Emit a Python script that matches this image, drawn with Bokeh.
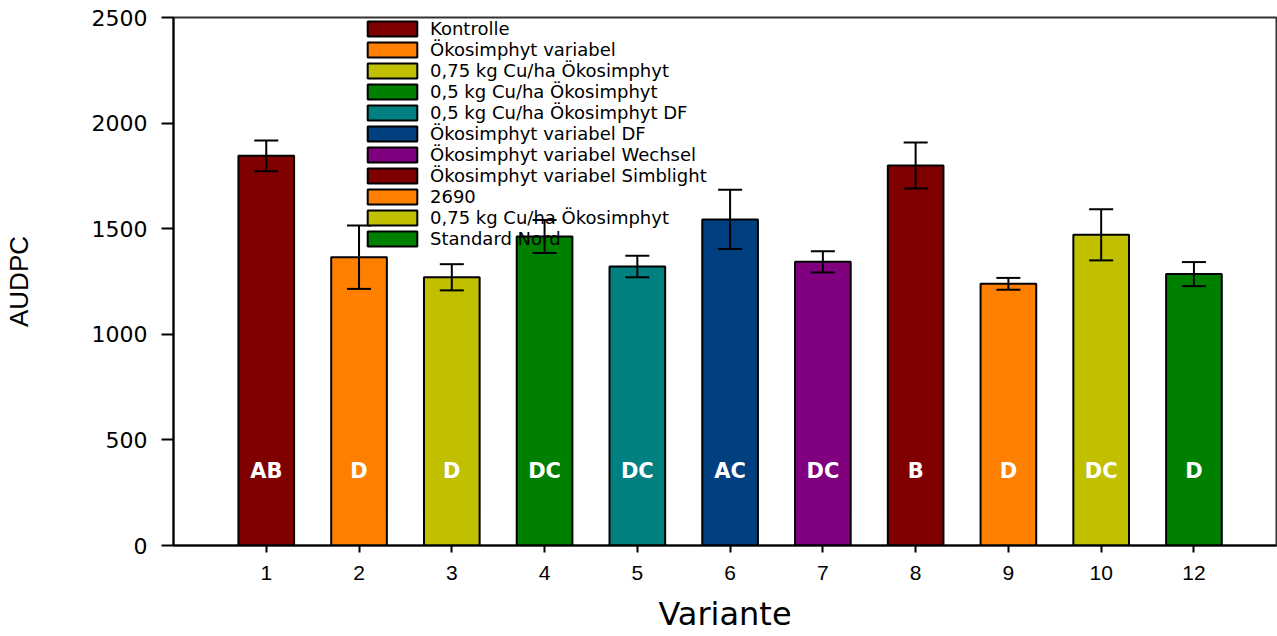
from bokeh.plotting import figure
from bokeh.models import (ColumnDataSource, Range1d, FixedTicker, Whisker, TeeHead,
                          Legend, LegendItem)
from bokeh.core.properties import value
from bokeh.embed import file_html
from bokeh.resources import INLINE

# ---- data ----
varianten = ["1", "2", "3", "4", "5", "6", "7", "8", "9", "10", "12"]
audpc = [1845, 1365, 1270, 1463, 1321, 1544, 1343, 1799, 1239, 1471, 1285]
fehler = [73, 150, 62, 78, 51, 140, 50, 109, 28, 121, 57]
buchstaben = ["AB", "D", "D", "DC", "DC", "AC", "DC", "B", "D", "DC", "D"]
namen = ["Kontrolle", "Ökosimphyt variabel", "0,75 kg Cu/ha Ökosimphyt",
         "0,5 kg Cu/ha Ökosimphyt", "0,5 kg Cu/ha Ökosimphyt DF",
         "Ökosimphyt variabel DF", "Ökosimphyt variabel Wechsel",
         "Ökosimphyt variabel Simblight", "2690", "0,75 kg Cu/ha Ökosimphyt",
         "Standard Nord"]
farben = ["#800000", "#FF8000", "#C0C000", "#008000", "#008080", "#004080",
          "#800080", "#800000", "#FF8000", "#C0C000", "#008000"]
y_ticks = [0, 500, 1000, 1500, 2000, 2500]

pos = list(range(1, len(varianten) + 1))
src = ColumnDataSource(dict(
    x=pos, top=audpc, color=farben, name=namen, letter=buchstaben,
    upper=[a + e for a, e in zip(audpc, fehler)],
    lower=[a - e for a, e in zip(audpc, fehler)],
    ly=[355] * len(pos),
))

p = figure(width=1277, height=636, output_backend="svg", toolbar_location=None,
           x_range=Range1d(0, 11.89), y_range=Range1d(0, 2500),
           min_border_left=173, min_border_top=17, min_border_right=1,
           min_border_bottom=91)
p.background_fill_color = "white"
p.border_fill_color = "white"
p.outline_line_color = "#333333"
p.outline_line_width = 2
p.xgrid.visible = False
p.ygrid.visible = False

bars = p.vbar(x="x", top="top", width=0.6, bottom=0, source=src,
              fill_color="color", line_color="black", line_width=2)

w = Whisker(source=src, base="x", upper="upper", lower="lower",
            line_color="black", line_width=2, level="overlay",
            upper_head=TeeHead(size=24, line_color="black", line_width=2),
            lower_head=TeeHead(size=24, line_color="black", line_width=2))
p.add_layout(w)

p.text(x="x", y="ly", text="letter", source=src, text_color="white",
       text_font=value("DejaVu Sans"), text_font_style="bold",
       text_font_size="21px", text_align="center", text_baseline="middle")

# axes
p.xaxis.ticker = FixedTicker(ticks=pos)
p.xaxis.major_label_overrides = {i: v for i, v in zip(pos, varianten)}
p.xaxis.axis_label = "Variante"
p.xaxis.axis_label_text_font = "DejaVu Sans"
p.xaxis.axis_label_text_font_size = "32px"
p.xaxis.axis_label_text_font_style = "normal"
p.xaxis.axis_label_text_color = "black"
p.xaxis.axis_label_standoff = 12
p.xaxis.major_label_text_font = "Liberation Sans"
p.xaxis.major_label_text_font_size = "21px"
p.xaxis.major_label_text_color = "black"
p.xaxis.major_label_standoff = 13
p.xaxis.major_tick_out = 7
p.xaxis.major_tick_in = 0
p.xaxis.minor_tick_line_color = None
p.xaxis.axis_line_width = 2
p.xaxis.major_tick_line_width = 2

p.yaxis.ticker = FixedTicker(ticks=y_ticks)
p.yaxis.axis_label = "AUDPC"
p.yaxis.axis_label_text_font = "Liberation Sans"
p.yaxis.axis_label_text_font_size = "26px"
p.yaxis.axis_label_text_font_style = "normal"
p.yaxis.axis_label_text_color = "black"
p.yaxis.axis_label_standoff = 55
p.yaxis.major_label_text_font = "DejaVu Sans"
p.yaxis.major_label_text_font_size = "22px"
p.yaxis.major_label_text_color = "black"
p.yaxis.major_label_standoff = 14
p.yaxis.major_tick_out = 12
p.yaxis.major_tick_in = 0
p.yaxis.minor_tick_line_color = None
p.yaxis.axis_line_width = 2
p.yaxis.major_tick_line_width = 2

items = [LegendItem(label=n, renderers=[bars], index=i) for i, n in enumerate(namen)]
legend = Legend(items=items, location=(188, 296), padding=0, margin=0,
                glyph_width=62, glyph_height=19, label_height=18, spacing=0,
                label_standoff=7, label_text_font="DejaVu Sans",
                label_text_font_size="18px", label_text_color="black",
                background_fill_alpha=0, border_line_alpha=0)
p.add_layout(legend, "center")

open("out.html", "w").write(file_html(p, INLINE))
